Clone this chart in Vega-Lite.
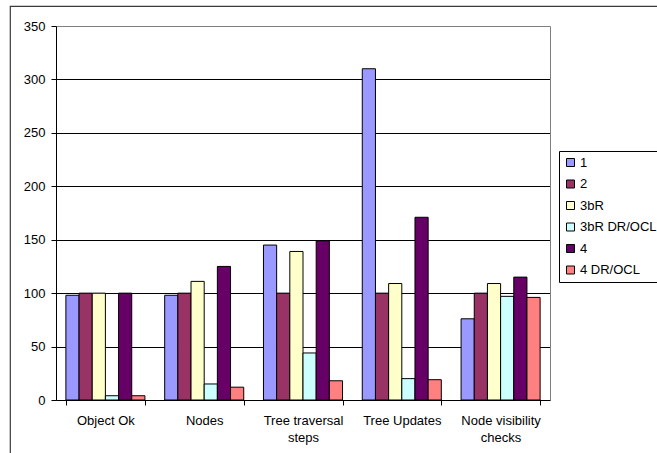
{
  "$schema": "https://vega.github.io/schema/vega-lite/v6.json",
  "width": 648,
  "height": 448,
  "autosize": {"type": "none"},
  "padding": {"left": 10, "top": 6, "right": -1, "bottom": -1},
  "background": "white",
  "config": {
    "font": "Liberation Sans",
    "view": {"stroke": "#3a3a3a", "strokeWidth": 1.2}
  },
  "data": {
    "values": [
      {"metric": "Object Ok", "config": "1", "value": 98},
      {"metric": "Object Ok", "config": "2", "value": 100},
      {"metric": "Object Ok", "config": "3bR", "value": 100},
      {"metric": "Object Ok", "config": "3bR DR/OCL", "value": 4},
      {"metric": "Object Ok", "config": "4", "value": 100},
      {"metric": "Object Ok", "config": "4 DR/OCL", "value": 4},
      {"metric": "Nodes", "config": "1", "value": 98},
      {"metric": "Nodes", "config": "2", "value": 100},
      {"metric": "Nodes", "config": "3bR", "value": 111},
      {"metric": "Nodes", "config": "3bR DR/OCL", "value": 15},
      {"metric": "Nodes", "config": "4", "value": 125},
      {"metric": "Nodes", "config": "4 DR/OCL", "value": 12},
      {"metric": "Tree traversal steps", "config": "1", "value": 145},
      {"metric": "Tree traversal steps", "config": "2", "value": 100},
      {"metric": "Tree traversal steps", "config": "3bR", "value": 139},
      {"metric": "Tree traversal steps", "config": "3bR DR/OCL", "value": 44},
      {"metric": "Tree traversal steps", "config": "4", "value": 149},
      {"metric": "Tree traversal steps", "config": "4 DR/OCL", "value": 18},
      {"metric": "Tree Updates", "config": "1", "value": 310},
      {"metric": "Tree Updates", "config": "2", "value": 100},
      {"metric": "Tree Updates", "config": "3bR", "value": 109},
      {"metric": "Tree Updates", "config": "3bR DR/OCL", "value": 20},
      {"metric": "Tree Updates", "config": "4", "value": 171},
      {"metric": "Tree Updates", "config": "4 DR/OCL", "value": 19},
      {"metric": "Node visibility checks", "config": "1", "value": 76},
      {"metric": "Node visibility checks", "config": "2", "value": 100},
      {"metric": "Node visibility checks", "config": "3bR", "value": 109},
      {"metric": "Node visibility checks", "config": "3bR DR/OCL", "value": 97},
      {"metric": "Node visibility checks", "config": "4", "value": 115},
      {"metric": "Node visibility checks", "config": "4 DR/OCL", "value": 96}
    ]
  },
  "encoding": {
    "x": {
      "field": "metric",
      "type": "nominal",
      "sort": null,
      "scale": {"range": [46, 540], "paddingInner": 0.2, "paddingOuter": 0.1},
      "axis": {
        "title": null,
        "offset": -54,
        "labelAngle": 0,
        "tickBand": "extent",
        "tickSize": 5,
        "tickColor": "black",
        "domainColor": "black",
        "labelPadding": 9,
        "labelFontSize": 13,
        "labelColor": "black",
        "labelLineHeight": 17,
        "labelExpr": "datum.value == 'Tree traversal steps' ? ['Tree traversal', 'steps'] : datum.value == 'Node visibility checks' ? ['Node visibility', 'checks'] : datum.value"
      }
    },
    "xOffset": {
      "field": "config",
      "type": "nominal",
      "sort": null,
      "scale": {"paddingInner": 0, "paddingOuter": 0}
    },
    "y": {
      "field": "value",
      "type": "quantitative",
      "scale": {"domain": [0, 350], "nice": false, "range": [394, 20]}
    }
  },
  "layer": [
    {
      "mark": {"type": "bar", "stroke": "black", "strokeWidth": 1},
      "encoding": {
        "y": {
          "field": "value",
          "type": "quantitative",
          "axis": {
            "title": null,
            "orient": "left",
            "offset": -46,
            "values": [0, 50, 100, 150, 200, 250, 300, 350],
            "tickSize": 5,
            "tickColor": "black",
            "domainColor": "black",
            "labelPadding": 6,
            "labelFontSize": 13,
            "labelColor": "black",
            "grid": true,
            "gridColor": {"condition": {"test": "datum.value == 350", "value": "#808080"}, "value": "black"},
            "gridOpacity": 1
          }
        },
        "color": {
          "field": "config",
          "type": "nominal",
          "sort": null,
          "scale": {
            "domain": ["1", "2", "3bR", "3bR DR/OCL", "4", "4 DR/OCL"],
            "range": ["#9999FF", "#993366", "#FFFFCC", "#CCFFFF", "#660066", "#FF8080"]
          },
          "legend": {
            "orient": "none",
            "legendX": 549,
            "legendY": 145,
            "title": null,
            "strokeColor": "black",
            "fillColor": "white",
            "padding": 5,
            "symbolType": "square",
            "symbolSize": 64,
            "symbolStrokeColor": "black",
            "symbolStrokeWidth": 1,
            "labelFontSize": 13,
            "labelColor": "black",
            "labelOffset": 3,
            "rowPadding": 7.5
          }
        }
      }
    },
    {
      "mark": {"type": "bar", "fillOpacity": 0, "strokeOpacity": 0},
      "encoding": {
        "y": {
          "field": "value",
          "type": "quantitative",
          "axis": {
            "title": null,
            "orient": "right",
            "offset": -108,
            "values": [0, 350],
            "ticks": false,
            "labels": false,
            "grid": false,
            "domainColor": "#808080"
          }
        }
      }
    }
  ],
  "resolve": {"axis": {"y": "independent"}}
}
